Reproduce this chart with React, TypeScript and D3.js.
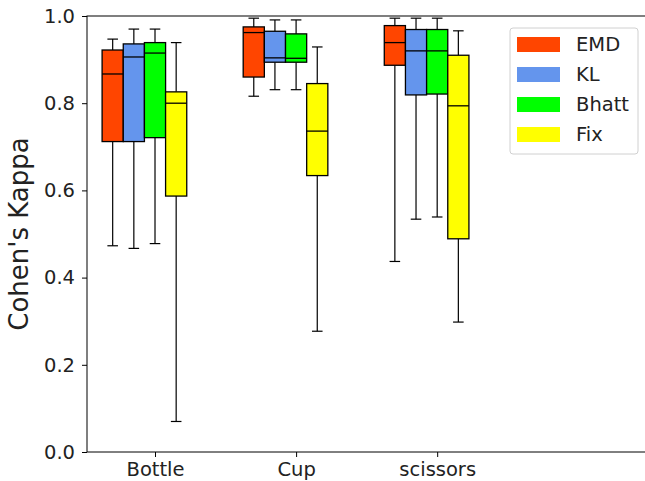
import React, { useRef, useEffect } from 'react';
import * as d3 from 'd3';

// box stats per category: [whiskerLow, q1, median, q3, whiskerHigh]
const categories = ['Bottle', 'Cup', 'scissors'];
const methods = ['EMD', 'KL', 'Bhatt', 'Fix'];
const colors = ['#ff4500', '#6495ed', '#00ff00', '#ffff00'];

const emdStats = [
  [0.473, 0.712, 0.867, 0.922, 0.947],
  [0.816, 0.86, 0.962, 0.975, 0.995],
  [0.437, 0.887, 0.939, 0.978, 0.995],
];
const klStats = [
  [0.467, 0.712, 0.906, 0.936, 0.97],
  [0.831, 0.894, 0.904, 0.965, 0.991],
  [0.534, 0.819, 0.92, 0.969, 0.995],
];
const bhattStats = [
  [0.478, 0.721, 0.915, 0.939, 0.97],
  [0.831, 0.894, 0.903, 0.959, 0.991],
  [0.539, 0.821, 0.92, 0.969, 0.995],
];
const fixStats = [
  [0.07, 0.587, 0.8, 0.826, 0.939],
  [0.277, 0.634, 0.736, 0.845, 0.929],
  [0.298, 0.489, 0.794, 0.91, 0.966],
];
const yTicks = [0, 0.2, 0.4, 0.6, 0.8, 1.0];

const allStats = [emdStats, klStats, bhattStats, fixStats];
const offsets = [-0.3, -0.15, 0, 0.15];
const boxW = 0.15;

function App() {
  const ref = useRef<SVGSVGElement | null>(null);

  useEffect(() => {
    const width = 645;
    const height = 481;
    const left = 87;
    const right = 646;
    const top = 16;
    const bottom = 452;
    const font = 'DejaVu Sans, sans-serif';
    const fs = 19.5;

    const svg = d3.select(ref.current);
    svg.selectAll('*').remove();
    svg.attr('width', width).attr('height', height);

    const x = d3.scaleLinear().domain([-0.482, 3.48]).range([left, right]);
    const y = d3.scaleLinear().domain([0, 1]).range([bottom, top]);

    const g = svg.append('g');

    allStats.forEach((stats, m) => {
      stats.forEach((s, c) => {
        const cx = c + offsets[m];
        const x0 = x(cx - boxW / 2);
        const x1 = x(cx + boxW / 2);
        const xm = x(cx);
        const capHalf = (x1 - x0) / 4;
        const [lo, q1, med, q3, hi] = s;

        // whiskers
        g.append('line').attr('x1', xm).attr('x2', xm)
          .attr('y1', y(q1)).attr('y2', y(lo))
          .attr('stroke', '#000').attr('stroke-width', 1.2);
        g.append('line').attr('x1', xm).attr('x2', xm)
          .attr('y1', y(q3)).attr('y2', y(hi))
          .attr('stroke', '#000').attr('stroke-width', 1.2);
        [lo, hi].forEach(v => {
          g.append('line').attr('x1', xm - capHalf).attr('x2', xm + capHalf)
            .attr('y1', y(v)).attr('y2', y(v))
            .attr('stroke', '#000').attr('stroke-width', 1.2);
        });

        g.append('rect')
          .attr('x', x0).attr('y', y(q3))
          .attr('width', x1 - x0).attr('height', y(q1) - y(q3))
          .attr('fill', colors[m])
          .attr('stroke', '#000').attr('stroke-width', 1.3);

        g.append('line').attr('x1', x0).attr('x2', x1)
          .attr('y1', y(med)).attr('y2', y(med))
          .attr('stroke', '#000').attr('stroke-width', 1.3);
      });
    });

    // axes frame
    svg.append('rect')
      .attr('x', left).attr('y', top)
      .attr('width', right - left).attr('height', bottom - top)
      .attr('fill', 'none').attr('stroke', '#000').attr('stroke-width', 1);

    const yAxis = svg.append('g')
      .attr('transform', `translate(${left},0)`)
      .call(d3.axisLeft(y).tickValues(yTicks).tickFormat(d3.format('.1f')).tickSize(5).tickPadding(7));
    yAxis.select('.domain').remove();
    yAxis.selectAll('text').attr('font-size', fs).attr('font-family', font).attr('fill', '#222');

    const xAxis = svg.append('g')
      .attr('transform', `translate(0,${bottom})`)
      .call(d3.axisBottom(x).tickValues([0, 1, 2]).tickFormat((d) => categories[d as number]).tickSize(5).tickPadding(5));
    xAxis.select('.domain').remove();
    xAxis.selectAll('text').attr('font-size', fs).attr('font-family', font).attr('fill', '#222');

    svg.append('text')
      .attr('transform', `translate(28,${(top + bottom) / 2}) rotate(-90)`)
      .attr('text-anchor', 'middle')
      .attr('font-family', font)
      .attr('font-size', 26)
      .attr('fill', '#222')
      .text("Cohen's Kappa");

    // legend
    const lg = svg.append('g').attr('transform', 'translate(510,28)');
    lg.append('rect')
      .attr('width', 128).attr('height', 126).attr('rx', 3)
      .attr('fill', '#fff').attr('fill-opacity', 0.8)
      .attr('stroke', '#d0d0d0').attr('stroke-width', 1);
    methods.forEach((name, i) => {
      lg.append('rect')
        .attr('x', 7).attr('y', 9 + i * 30)
        .attr('width', 43).attr('height', 15)
        .attr('fill', colors[i]);
      lg.append('text')
        .attr('x', 66).attr('y', 16.5 + i * 30)
        .attr('dy', '0.35em')
        .attr('font-family', font).attr('font-size', fs)
        .attr('fill', '#222')
        .text(name);
    });
  }, []);

  return (
    <div style={{ position: 'absolute', left: 0, top: 0 }}>
      <svg ref={ref}></svg>
    </div>
  );
}

export default App;
